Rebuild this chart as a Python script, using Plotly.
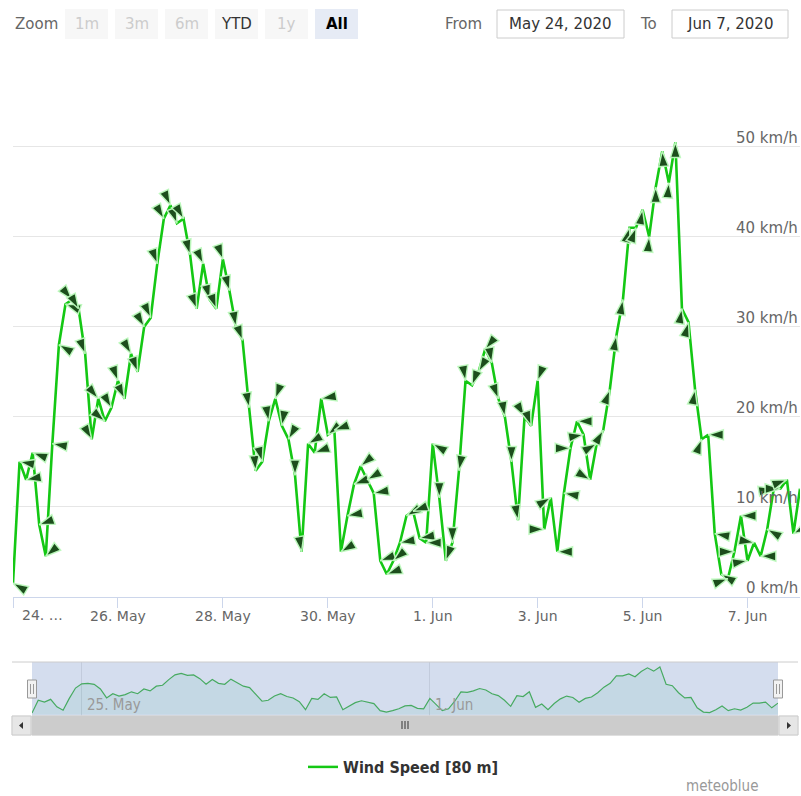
import pandas as pd
import plotly.graph_objects as go

# ---------------- data (3-hourly) ----------------
start_time = "2020-05-24 00:00"
step = "3h"
wind_speed = [
    1.5, 15, 13, 16, 8, 4.5, 17, 28, 32.5,
    33, 32, 27, 17.5, 22, 19.5, 21, 24,
    22, 27, 25, 30, 31, 37, 42, 43.5,
    41.5, 42, 38, 32, 37, 33, 32, 37.5,
    34, 30, 28.5, 21, 14, 15, 19.5, 22,
    19, 17.5, 13.5, 5, 17, 16, 22, 18,
    18.5, 5, 9, 12.5, 14.5, 13, 11.5, 4,
    2.5, 4, 6, 9, 9.5, 6.5, 6, 17,
    11, 4, 6, 14, 24, 23.5, 25, 27.5,
    26, 22, 20, 15, 8.5, 20, 19, 24,
    7.5, 11, 5, 11.5, 16.5, 19.5, 18, 13,
    17, 18.5, 23, 29, 33, 41, 41, 43,
    40, 45.5, 49.5, 46, 50.5, 32, 30.5, 23,
    17.5, 18, 7, 2.5, 2, 5, 9, 4,
    6, 4.5, 7.5, 12, 12, 13, 7, 12,
]
wind_direction = [
    300, 280, 260, 290, 250, 230, 280, 300, 290,
    140, 150, 160, 150, 140, 130, 150, 160,
    155, 150, 160, 150, 155, 160, 150, 155,
    160, 150, 165, 160, 155, 165, 160, 160,
    165, 170, 160, 170, 175, 165, 170, 200,
    190, 210, 180, 170, 240, 250, 260, 230,
    250, 240, 260, 250, 230, 240, 260, 250,
    250, 230, 260, 240, 250, 260, 270, 300,
    180, 200, 180, 190, 170, 200, 210, 220,
    170, 160, 170, 180, 170, 150, 160, 200,
    90, 60, 270, 280, 90, 270, 80, 120,
    60, 30, 20, 10, 10, 15, 20, 10,
    5, 0, 355, 5, 0, 10, 15, 10,
    20, 270, 280, 300, 70, 90, 270, 80,
    100, 270, 300, 80, 90, 70, 240, 300,
]
times = pd.date_range(start_time, periods=len(wind_speed), freq=step)

x_tick_dates = ["2020-05-24", "2020-05-26", "2020-05-28", "2020-05-30",
                "2020-06-01", "2020-06-03", "2020-06-05", "2020-06-07"]
x_tick_labels = ["24. …", "26. May", "28. May", "30. May",
                 "1. Jun", "3. Jun", "5. Jun", "7. Jun"]
y_label_values = [0, 10, 20, 30, 40, 50]
y_label_unit = "km/h"
nav_tick_dates = ["2020-05-25", "2020-06-01"]
nav_tick_labels = ["25. May", "1. Jun"]
series_name = "Wind Speed [80 m]"
range_buttons = ["1m", "3m", "6m", "YTD", "1y", "All"]
button_states = ["off", "off", "off", "on", "off", "active"]
from_text, to_text = "May 24, 2020", "Jun 7, 2020"
credit = "meteoblue"

# ---------------- helpers for layout positions ----------------
W, H = 801, 796
def px(x):
    return x / W
def py(y):
    return 1 - y / H

FONT = "DejaVu Sans, Verdana, sans-serif"
COND = "DejaVu Sans Condensed, Liberation Sans Narrow, DejaVu Sans, sans-serif"
GREEN = "rgb(20,200,20)"

x_range = [times[0], times[-1]]

fig = go.Figure()

# main line with direction arrows
fig.add_trace(go.Scatter(
    x=times, y=wind_speed, mode="lines", showlegend=False,
    line=dict(color=GREEN, width=2.6), hoverinfo="skip",
))
fig.add_trace(go.Scatter(
    x=times, y=wind_speed, mode="markers", showlegend=False,
    marker=dict(symbol="arrow", size=16, angle=wind_direction,
                color="rgb(28,78,28)",
                line=dict(color="rgba(190,250,190,0.95)", width=1.5)),
    name=series_name,
))
# legend entry
fig.add_trace(go.Scatter(
    x=[None], y=[None], mode="lines", name=series_name,
    line=dict(color=GREEN, width=2.5), showlegend=True,
))
# navigator series
fig.add_trace(go.Scatter(
    x=times, y=wind_speed, mode="lines", showlegend=False,
    line=dict(color="rgb(60,185,60)", width=1.2),
    fill="tozeroy", fillcolor="rgba(40,190,120,0.10)",
    xaxis="x2", yaxis="y2", hoverinfo="skip",
))

shapes = []
annotations = []

# first x label (shifted right and truncated, as at the chart edge)
annotations.append(dict(
    x=px(20), xref="paper", y=py(615), yref="paper", xanchor="left", yanchor="middle",
    text=x_tick_labels[0], showarrow=False,
    font=dict(family=FONT, size=14, color="#666666"),
))
shown_tick_labels = [""] + x_tick_labels[1:]

# y labels on the right, above gridlines
for v in y_label_values:
    annotations.append(dict(
        x=px(800), xref="paper", y=v, yref="y", xanchor="right", yanchor="middle",
        yshift=9, text=f"{v} {y_label_unit}", showarrow=False,
        font=dict(family=FONT, size=15, color="#666666"),
    ))

# navigator labels
for d, t in zip(nav_tick_dates, nav_tick_labels):
    annotations.append(dict(
        x=d, xref="x2", y=py(705), yref="paper", xanchor="left", yanchor="middle",
        xshift=3, text=t, showarrow=False,
        font=dict(family=COND, size=15, color="#999999"),
    ))

# top toolbar
annotations.append(dict(x=px(13), y=py(24), xref="paper", yref="paper", xanchor="left",
                        yanchor="middle", text="Zoom", showarrow=False,
                        font=dict(family=FONT, size=15, color="#666666")))
bx0 = 65
for i, (lab, st) in enumerate(zip(range_buttons, button_states)):
    x0 = bx0 + i * 50
    x1 = x0 + 43
    fill = "#e6ebf5" if st == "active" else "#f7f7f7"
    shapes.append(dict(type="rect", xref="paper", yref="paper", x0=px(x0), x1=px(x1),
                       y0=py(39), y1=py(9), fillcolor=fill, line=dict(width=0), layer="below"))
    col = {"off": "#cccccc", "on": "#333333", "active": "#000000"}[st]
    txt = f"<b>{lab}</b>" if st == "active" else lab
    annotations.append(dict(x=px((x0 + x1) / 2), y=py(24), xref="paper", yref="paper",
                            xanchor="center", yanchor="middle", text=txt, showarrow=False,
                            font=dict(family=FONT, size=15, color=col)))

annotations.append(dict(x=px(484), y=py(24), xref="paper", yref="paper", xanchor="right",
                        yanchor="middle", text="From", showarrow=False,
                        font=dict(family=FONT, size=15, color="#666666")))
annotations.append(dict(x=px(659), y=py(24), xref="paper", yref="paper", xanchor="right",
                        yanchor="middle", text="To", showarrow=False,
                        font=dict(family=FONT, size=15, color="#666666")))
for (x0, x1, t) in [(497, 624, from_text), (672, 788, to_text)]:
    shapes.append(dict(type="rect", xref="paper", yref="paper", x0=px(x0), x1=px(x1),
                       y0=py(38), y1=py(10), fillcolor="white",
                       line=dict(color="#cccccc", width=1)))
    annotations.append(dict(x=px((x0 + x1) / 2), y=py(24), xref="paper", yref="paper",
                            xanchor="center", yanchor="middle", text=t, showarrow=False,
                            font=dict(family=FONT, size=15, color="#333333")))

# navigator mask, outline, handles
shapes.append(dict(type="rect", xref="paper", yref="paper", x0=px(32), x1=px(778),
                   y0=py(716), y1=py(662), fillcolor="rgba(102,133,194,0.28)",
                   line=dict(width=0), layer="above"))
shapes.append(dict(type="line", xref="paper", yref="paper", x0=px(12), x1=px(798),
                   y0=py(662), y1=py(662), line=dict(color="#cccccc", width=1)))
for hx in (32, 778):
    shapes.append(dict(type="rect", xref="paper", yref="paper", x0=px(hx - 4.5), x1=px(hx + 4.5),
                       y0=py(698), y1=py(680), fillcolor="#f2f2f2",
                       line=dict(color="#999999", width=1), layer="above"))
    for dx in (-1.5, 1.5):
        shapes.append(dict(type="line", xref="paper", yref="paper", x0=px(hx + dx), x1=px(hx + dx),
                           y0=py(694), y1=py(684), line=dict(color="#999999", width=1)))

# scrollbar
shapes.append(dict(type="rect", xref="paper", yref="paper", x0=px(12), x1=px(798),
                   y0=py(735), y1=py(716), fillcolor="#f2f2f2", line=dict(color="#e6e6e6", width=1)))
shapes.append(dict(type="rect", xref="paper", yref="paper", x0=px(32), x1=px(778),
                   y0=py(735), y1=py(716), fillcolor="#cccccc", line=dict(color="#cccccc", width=1)))
for (x0, x1) in [(12, 31), (779, 798)]:
    shapes.append(dict(type="rect", xref="paper", yref="paper", x0=px(x0), x1=px(x1),
                       y0=py(735), y1=py(716), fillcolor="#e6e6e6",
                       line=dict(color="#cccccc", width=1)))
shapes.append(dict(type="path", xref="paper", yref="paper",
                   path=f"M {px(19)} {py(725.5)} L {px(23)} {py(722)} L {px(23)} {py(729)} Z",
                   fillcolor="#333333", line=dict(width=0)))
shapes.append(dict(type="path", xref="paper", yref="paper",
                   path=f"M {px(791)} {py(725.5)} L {px(787)} {py(722)} L {px(787)} {py(729)} Z",
                   fillcolor="#333333", line=dict(width=0)))
for dx in (-3, 0, 3):
    shapes.append(dict(type="line", xref="paper", yref="paper", x0=px(405 + dx), x1=px(405 + dx),
                       y0=py(729), y1=py(721), line=dict(color="#333333", width=1)))

# credit
annotations.append(dict(x=px(760), y=py(786), xref="paper", yref="paper", xanchor="right",
                        yanchor="middle", text=credit, showarrow=False,
                        font=dict(family=COND, size=15, color="#999999")))

fig.update_layout(
    width=W, height=H, autosize=False,
    margin=dict(l=0, r=0, t=0, b=0, pad=0),
    paper_bgcolor="white", plot_bgcolor="white",
    font=dict(family=FONT, color="#666666"),
    showlegend=True,
    legend=dict(orientation="h", x=px(303), xanchor="left", y=py(767), yanchor="middle",
                bgcolor="rgba(0,0,0,0)", borderwidth=0,
                font=dict(family=COND, size=16, color="#333333", weight="bold")),
    xaxis=dict(domain=[px(13), px(800)], range=x_range, type="date",
               tickvals=x_tick_dates, ticktext=shown_tick_labels,
               ticks="outside", ticklen=10, tickcolor="#ccd6eb", tickwidth=1,
               ticklabelstandoff=-4,
               showline=True, linecolor="#ccd6eb", linewidth=1,
               showgrid=False, zeroline=False,
               tickfont=dict(family=FONT, size=14, color="#666666"),
               fixedrange=True),
    yaxis=dict(domain=[py(596.7), py(56.7)], range=[0, 60], dtick=10, tick0=0,
               showticklabels=False, showgrid=True, gridcolor="#e6e6e6", gridwidth=1,
               zeroline=False, showline=False, fixedrange=True),
    xaxis2=dict(domain=[px(32), px(778)], range=x_range, type="date", anchor="y2",
                tickvals=nav_tick_dates, showticklabels=False, ticks="",
                showgrid=True, gridcolor="#e6e6e6", showline=False, zeroline=False,
                fixedrange=True),
    yaxis2=dict(domain=[py(716), py(662)], range=[-1.7, 55.7], anchor="x2",
                showticklabels=False, showgrid=False, zeroline=False, fixedrange=True),
    shapes=shapes,
    annotations=annotations,
)

fig.write_html("out.html", config={"displayModeBar": False},
               post_script="document.body.style.margin='0px';document.body.style.padding='0px';document.body.style.overflow='hidden';")
